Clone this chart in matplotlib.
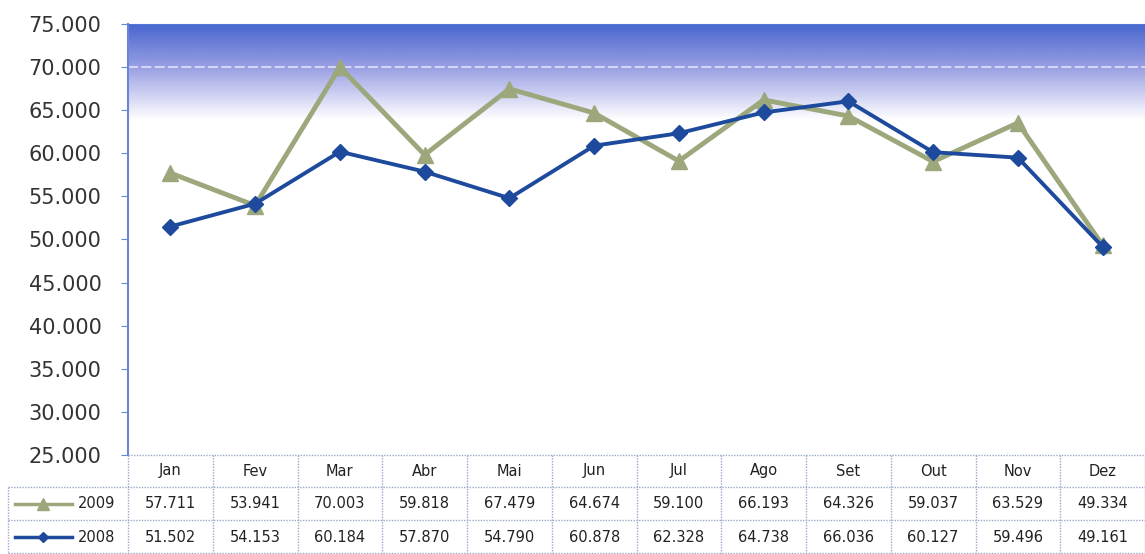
import numpy as np
import matplotlib
matplotlib.use("Agg")
import matplotlib.pyplot as plt
from matplotlib.colors import LinearSegmentedColormap
from matplotlib.lines import Line2D
import matplotlib.transforms as mtransforms

# dados
meses = ['Jan', 'Fev', 'Mar', 'Abr', 'Mai', 'Jun', 'Jul', 'Ago', 'Set', 'Out', 'Nov', 'Dez']
v2009 = [57711, 53941, 70003, 59818, 67479, 64674, 59100, 66193, 64326, 59037, 63529, 49334]
v2008 = [51502, 54153, 60184, 57870, 54790, 60878, 62328, 64738, 66036, 60127, 59496, 49161]
rotulos_2009 = ['57.711', '53.941', '70.003', '59.818', '67.479', '64.674', '59.100', '66.193', '64.326', '59.037', '63.529', '49.334']
rotulos_2008 = ['51.502', '54.153', '60.184', '57.870', '54.790', '60.878', '62.328', '64.738', '66.036', '60.127', '59.496', '49.161']
yticks = [25000, 30000, 35000, 40000, 45000, 50000, 55000, 60000, 65000, 70000, 75000]

cor_2009 = '#9ca87c'
cor_2008 = '#1d4a9c'
cor_grade = '#9aa8c8'

W, H = 1145, 554
fig = plt.figure(figsize=(W / 100, H / 100), dpi=100)
ax = fig.add_axes([128 / W, (H - 455) / H, 1 - 128 / W, (455 - 24) / H])

# fundo em degradê (azul no topo -> branco)
grad = LinearSegmentedColormap.from_list('g', [(0.0, '#ffffff'), (0.78, '#ffffff'), (0.83, '#d6d8f4'),
                                               (0.90, '#9ba1e4'), (1.0, '#4a68d0')])
ax.imshow(np.linspace(0, 1, 400).reshape(-1, 1), cmap=grad, origin='lower', aspect='auto',
          extent=[0, 1, 0, 1], transform=ax.transAxes, zorder=0)

x = np.arange(len(meses))
ax.plot(x, v2009, color=cor_2009, lw=3.5, marker='^', ms=12, zorder=3)
ax.plot(x, v2008, color=cor_2008, lw=2.8, marker='D', ms=8, zorder=4)

ax.set_xlim(-0.5, 11.5)
ax.set_ylim(25000, 75000)
ax.set_yticks(yticks)
ax.set_yticklabels([f'{t // 1000}.000' for t in yticks], fontsize=15, color='#333333')
ax.set_xticks([])
ax.axhline(70000, color='white', lw=1.2, ls=(0, (6, 2)), alpha=0.7, zorder=1)
ax.tick_params(axis='y', length=5, color='#6b86d6', pad=14)
for s in ['right', 'bottom']:
    ax.spines[s].set_visible(False)
ax.spines['left'].set_color('#6b86d6')
ax.spines['left'].set_linewidth(1.5)
ax.spines['top'].set_color('#5577d4')

# tabela de dados
tr = mtransforms.blended_transform_factory(ax.transData, fig.transFigure)
y_linhas = [(H - 455) / H, (H - 487) / H, (H - 520) / H, (H - 554) / H + 0.002]
y_cent = [(H - 471) / H, (H - 504) / H, (H - 537) / H]
kw = dict(fontsize=10.5, color='#222222', ha='center', va='center', transform=tr, clip_on=False)
for i, m in enumerate(meses):
    ax.text(i, y_cent[0], m, **kw)
    ax.text(i, y_cent[1], rotulos_2009[i], **kw)
    ax.text(i, y_cent[2], rotulos_2008[i], **kw)

estilo = dict(color=cor_grade, lw=1, ls=(0, (1, 1)))
for yl in y_linhas:
    fig.add_artist(Line2D([128 / W if yl == y_linhas[0] else 8 / W, 1], [yl, yl], **estilo))
for i in range(13):
    fig.add_artist(Line2D([i - 0.5, i - 0.5], [y_linhas[0], y_linhas[-1]], transform=tr, **estilo))
fig.add_artist(Line2D([8 / W, 8 / W], [y_linhas[1], y_linhas[-1]], **estilo))

# legendas nas linhas da tabela
for yc, cor, mk, ms, nome in [(y_cent[1], cor_2009, '^', 8, '2009'), (y_cent[2], cor_2008, 'D', 5, '2008')]:
    fig.add_artist(Line2D([15 / W, 72 / W], [yc, yc], color=cor, lw=2.5))
    fig.add_artist(Line2D([43 / W], [yc], color=cor, marker=mk, ms=ms, lw=0))
    fig.text(97 / W, yc, nome, fontsize=10.5, color='#222222', ha='center', va='center')

fig.savefig('out.png', dpi=100)
